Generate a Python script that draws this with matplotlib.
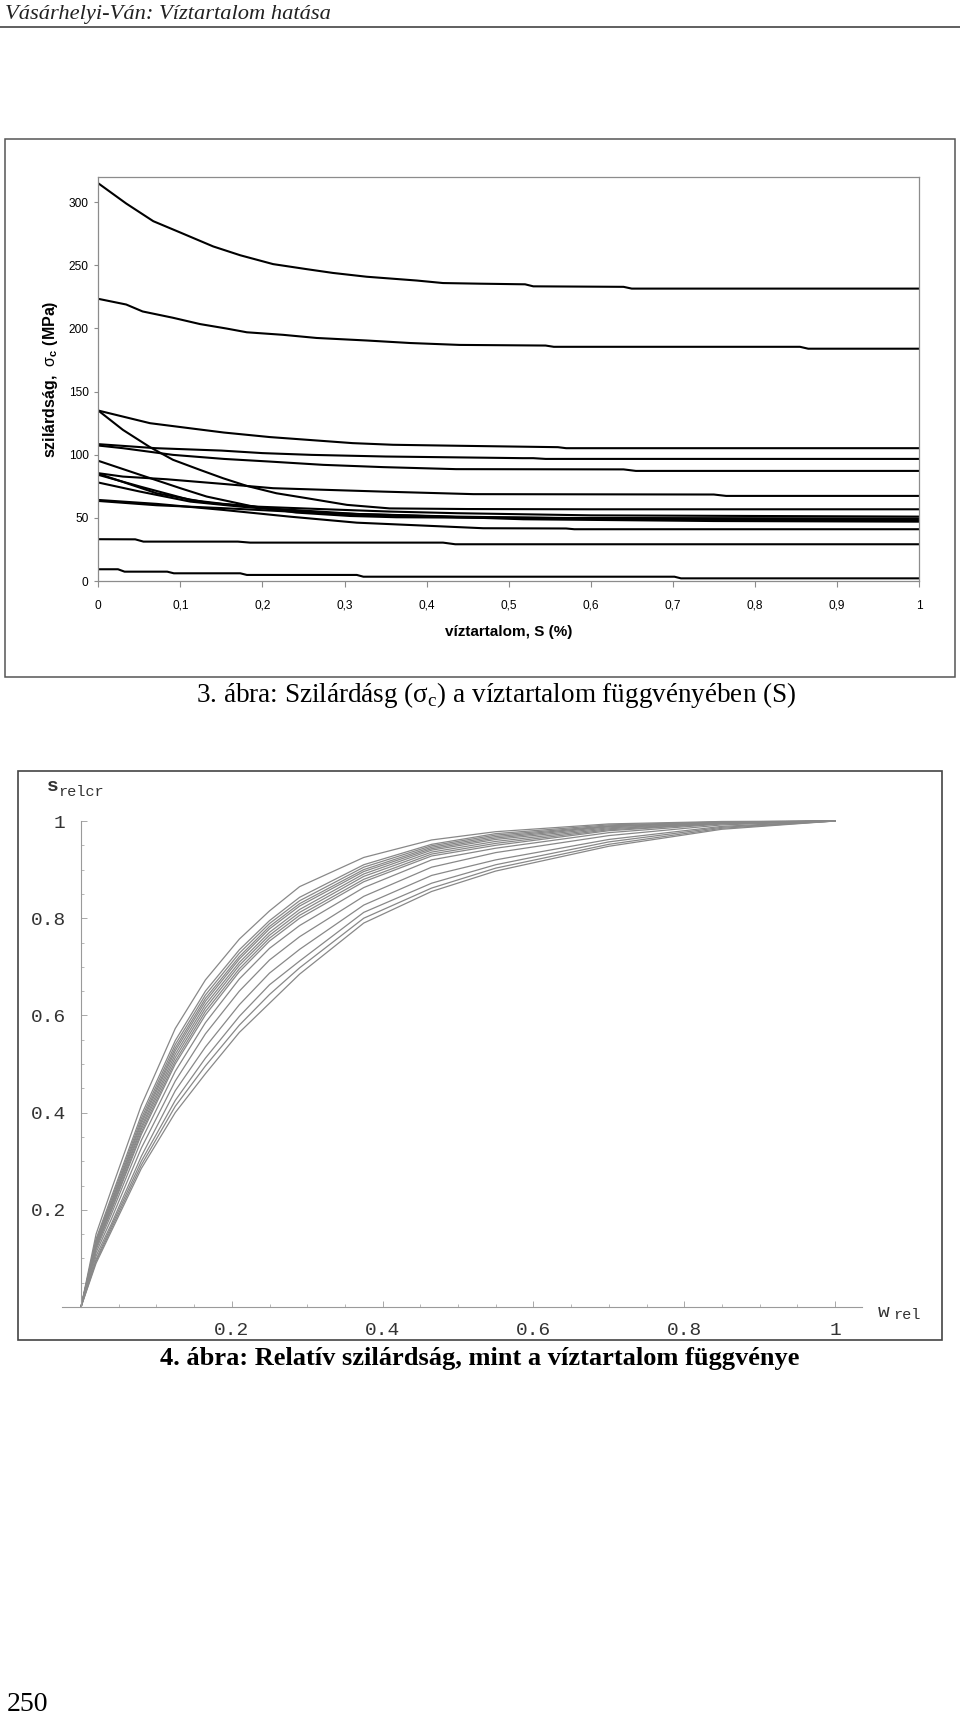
import matplotlib
matplotlib.use("Agg")
import matplotlib.pyplot as plt
from matplotlib.patches import Rectangle
from matplotlib.lines import Line2D
from matplotlib.ticker import MultipleLocator

plt.rcParams['mathtext.fontset'] = 'custom'
plt.rcParams['mathtext.rm'] = 'Liberation Serif'
plt.rcParams['mathtext.sf'] = 'Liberation Sans'
plt.rcParams['mathtext.bf'] = 'Liberation Sans:bold'

# ---- 3. ábra: szilárdság a víztartalom függvényében ----
c1_x = [0, 0.034, 0.067, 0.1, 0.14, 0.173, 0.213, 0.254, 0.286, 0.327, 0.388, 0.42, 0.465, 0.52, 0.53, 0.64, 0.65, 1.0]
c1_y = [315, 299, 285, 276, 265, 258, 251, 247, 244, 241, 238, 236, 235.5, 235, 233.4, 233, 231.6, 231.6]
c2_x = [0, 0.034, 0.054, 0.091, 0.124, 0.156, 0.181, 0.225, 0.266, 0.327, 0.38, 0.44, 0.545, 0.555, 0.855, 0.865, 1.0]
c2_y = [223.5, 219, 213.5, 208.5, 203.5, 200, 197, 195, 192.5, 190.5, 188.5, 187, 186.5, 185.5, 185.5, 184, 184]
c3_x = [0, 0.063, 0.12, 0.153, 0.209, 0.266, 0.31, 0.359, 0.44, 0.56, 0.57, 1.0]
c3_y = [135, 125, 120.3, 117.6, 114, 111.3, 109.2, 107.9, 107.1, 106, 105.2, 105.2]
c4_x = [0, 0.03, 0.063, 0.091, 0.124, 0.152, 0.181, 0.217, 0.254, 0.303, 0.355, 0.45, 0.6, 1.0]
c4_y = [135, 119.7, 106, 96, 88, 81.4, 75.3, 69.5, 65.6, 60.3, 57.5, 57, 56.8, 56.8]
c5_x = [0, 0.07, 0.15, 0.2, 0.26, 0.35, 0.517, 0.53, 0.545, 1.0]
c5_y = [108.4, 105.2, 103.3, 101.3, 99.9, 98.6, 97.3, 97.3, 96.7, 96.7]
c6_x = [0, 0.03, 0.091, 0.153, 0.209, 0.274, 0.347, 0.436, 0.64, 0.655, 1.0]
c6_y = [107.3, 105.2, 99.9, 96.7, 94.6, 92, 90.2, 88.6, 88.4, 87.2, 87.2]
c7_x = [0, 0.051, 0.1, 0.132, 0.185, 0.241, 0.307, 0.363, 0.5, 1.0]
c7_y = [95.2, 84.1, 73.5, 66.9, 59.5, 54.2, 51.5, 50.5, 50, 49.5]
c8_x = [0, 0.03, 0.083, 0.152, 0.213, 0.347, 0.457, 0.75, 0.765, 1.0]
c8_y = [85.4, 82.7, 80.6, 76.9, 73.5, 70.8, 68.8, 68.5, 67.4, 67.4]
c9_x = [0, 0.051, 0.112, 0.152, 0.193, 0.274, 0.355, 0.437, 0.6, 1.0]
c9_y = [84.1, 74.8, 64.2, 61.1, 58.9, 56.9, 55, 53.7, 52, 51]
c10_x = [0, 0.051, 0.112, 0.173, 0.233, 0.315, 0.437, 0.7, 1.0]
c10_y = [78, 70.8, 62.9, 58.9, 55.7, 52.3, 50.5, 49.3, 48.9]
c11_x = [0, 0.071, 0.132, 0.213, 0.315, 0.437, 0.7, 1.0]
c11_y = [85, 69.5, 62.1, 57.3, 53.1, 51, 48.5, 48]
c12_x = [0, 0.071, 0.152, 0.233, 0.315, 0.396, 0.469, 0.57, 0.58, 1.0]
c12_y = [64.2, 61.1, 56.3, 51, 46.2, 43.9, 41.8, 41.6, 41, 41]
c13_x = [0, 0.071, 0.152, 0.233, 0.315, 0.396, 0.518, 0.75, 1.0]
c13_y = [63.4, 60, 57.7, 55, 53.1, 51.5, 48.9, 47.5, 47]
c14_x = [0, 0.045, 0.055, 0.17, 0.185, 0.42, 0.435, 1.0]
c14_y = [33.1, 33, 31.2, 31.2, 30.4, 30.4, 29.1, 29.1]
c15_x = [0, 0.024, 0.032, 0.084, 0.092, 0.173, 0.181, 0.315, 0.323, 0.702, 0.71, 1.0]
c15_y = [9.3, 9.3, 7.4, 7.4, 6.1, 6.1, 4.8, 4.8, 3.4, 3.4, 2.1, 2.1]

gorbek = [(c1_x, c1_y), (c2_x, c2_y), (c3_x, c3_y), (c4_x, c4_y), (c5_x, c5_y),
          (c6_x, c6_y), (c7_x, c7_y), (c8_x, c8_y), (c9_x, c9_y), (c10_x, c10_y),
          (c11_x, c11_y), (c12_x, c12_y), (c13_x, c13_y), (c14_x, c14_y), (c15_x, c15_y)]

x1_ticks = [0, 0.1, 0.2, 0.3, 0.4, 0.5, 0.6, 0.7, 0.8, 0.9, 1.0]
x1_labels = ["0", "0,1", "0,2", "0,3", "0,4", "0,5", "0,6", "0,7", "0,8", "0,9", "1"]
y1_ticks = [0, 50, 100, 150, 200, 250, 300]

# ---- 4. ábra: relatív szilárdság ----
w_rel = [0, 0.02, 0.04, 0.08, 0.125, 0.165, 0.21, 0.25, 0.29, 0.375, 0.465, 0.55, 0.7, 0.85, 1.0]
rel_a = [0, .150, .240, .415, .573, .673, .757, .815, .865, .925, .961, .978, .994, .999, 1]
rel_b = [0, .140, .225, .395, .548, .650, .735, .795, .843, .910, .952, .974, .992, .998, 1]
rel_c = [0, .137, .220, .388, .540, .642, .728, .789, .836, .905, .949, .971, .990, .998, 1]
rel_d = [0, .134, .215, .382, .533, .635, .721, .783, .830, .900, .946, .968, .989, .997, 1]
rel_e = [0, .132, .212, .377, .527, .629, .716, .778, .825, .896, .943, .965, .988, .997, 1]
rel_f = [0, .129, .208, .371, .520, .622, .709, .771, .818, .891, .940, .962, .986, .996, 1]
rel_g = [0, .127, .205, .366, .513, .615, .703, .765, .812, .886, .936, .958, .984, .996, 1]
rel_h = [0, .124, .200, .360, .506, .608, .696, .759, .806, .880, .932, .954, .982, .995, 1]
rel_i = [0, .122, .197, .355, .500, .601, .690, .753, .800, .875, .928, .950, .980, .995, 1]
rel_j = [0, .118, .190, .343, .485, .585, .675, .738, .785, .863, .920, .944, .976, .994, 1]
rel_k = [0, .112, .180, .327, .465, .562, .650, .714, .762, .845, .905, .935, .970, .992, 1]
rel_l = [0, .105, .170, .310, .445, .535, .622, .687, .736, .827, .888, .920, .962, .989, 1]
rel_m = [0, .098, .165, .300, .425, .512, .598, .663, .712, .812, .872, .910, .957, .987, 1]
rel_n = [0, .094, .160, .292, .413, .496, .580, .643, .698, .800, .862, .903, .952, .985, 1]
rel_o = [0, .090, .155, .285, .400, .480, .565, .625, .685, .790, .855, .897, .948, .983, 1]
rel_gorbek = [rel_a, rel_b, rel_c, rel_d, rel_e, rel_f, rel_g, rel_h,
              rel_i, rel_j, rel_k, rel_l, rel_m, rel_n, rel_o]

rel_ticks = [0.2, 0.4, 0.6, 0.8, 1.0]
rel_labels = ["0.2", "0.4", "0.6", "0.8", "1"]

W, H = 960, 1714
fig = plt.figure(figsize=(9.6, 17.14), dpi=100)


def hely(x0, y0, x1, y1):
    # pixel doboz -> figure tört koordináták
    return [x0 / W, 1 - y1 / H, (x1 - x0) / W, (y1 - y0) / H]


def px(x, y):
    return x / W, 1 - y / H


def szoveg(x, y, s, **kw):
    fx, fy = px(x, y)
    fig.text(fx, fy, s, **kw)


# fejléc
szoveg(5, 18.5, "Vásárhelyi-Ván: Víztartalom hatása", family="Liberation Serif",
       style="italic", fontsize=16.2, color="#222222", va="baseline", ha="left")
fig.add_artist(Line2D([0, 1], [px(0, 27)[1]] * 2, transform=fig.transFigure,
                      color="#444444", lw=1.2))

# ---- felső diagram ----
x0, y0 = px(5, 139)
x1, y1 = px(955, 677)
fig.add_artist(Rectangle((x0, y1), x1 - x0, y0 - y1, transform=fig.transFigure,
                         fill=False, edgecolor="#555555", lw=1.1))

ax1 = fig.add_axes(hely(98.3, 177, 919, 581))
for gx, gy in gorbek:
    ax1.plot(gx, gy, color="black", lw=1.5, solid_joinstyle="round")
ax1.set_xlim(0, 1)
ax1.set_ylim(0, 320)
ax1.set_xticks(x1_ticks)
ax1.set_xticklabels(x1_labels)
ax1.set_yticks(y1_ticks)
for sp in ax1.spines.values():
    sp.set_color("#8c8c8c")
    sp.set_linewidth(0.9)
ax1.tick_params(axis="y", direction="out", length=3, width=0.8, color="#8c8c8c",
                labelsize=8.6, pad=4)
ax1.tick_params(axis="x", direction="out", length=4.5, width=0.8, color="#8c8c8c",
                labelsize=8.6, pad=9)
for t in ax1.get_xticklabels() + ax1.get_yticklabels():
    t.set_family("Liberation Sans")
ax1.set_ylabel(r"szilárdság,  $\mathsf{\sigma}_\mathbf{c}$ (MPa)", family="Liberation Sans",
               fontsize=11.5, fontweight="bold")
ax1.yaxis.set_label_coords(-0.047, 0.5)
ax1.set_xlabel("víztartalom, S (%)", family="Liberation Sans", fontsize=11,
               fontweight="bold")
ax1.xaxis.set_label_coords(0.5, -0.11)

szoveg(496, 695, r"3. ábra: Szilárdásg ($\mathrm{\sigma}_\mathrm{c}$) a víztartalom függvényében (S)",
       family="Liberation Serif", fontsize=19.5, ha="center", va="center", color="black")

# ---- alsó diagram ----
x0, y0 = px(17.5, 771)
x1, y1 = px(942, 1340)
fig.add_artist(Rectangle((x0, y1), x1 - x0, y0 - y1, transform=fig.transFigure,
                         fill=False, edgecolor="#444444", lw=1.2))

ax2 = fig.add_axes(hely(62, 821, 862, 1307))
for gy in rel_gorbek:
    ax2.plot(w_rel, gy, color="#888888", lw=0.9, clip_on=False)
ax2.set_xlim(-0.0252, 1.0358)
ax2.set_ylim(0, 1.0)
ax2.spines["top"].set_visible(False)
ax2.spines["right"].set_visible(False)
ax2.spines["left"].set_position(("data", 0))
for sp in ("left", "bottom"):
    ax2.spines[sp].set_color("#9a9a9a")
    ax2.spines[sp].set_linewidth(0.8)
ax2.set_xticks(rel_ticks)
ax2.set_xticklabels(rel_labels)
ax2.set_yticks(rel_ticks)
ax2.set_yticklabels(rel_labels)
ax2.xaxis.set_minor_locator(MultipleLocator(0.05))
ax2.yaxis.set_minor_locator(MultipleLocator(0.05))
ax2.tick_params(which="major", direction="in", length=4, width=0.6, color="#9a9a9a",
                labelsize=14, labelcolor="#333333")
ax2.tick_params(which="minor", direction="in", length=2.5, width=0.5, color="#9a9a9a")
ax2.tick_params(axis="y", which="major", pad=11)
ax2.tick_params(axis="x", which="major", pad=11)
for t in ax2.get_xticklabels() + ax2.get_yticklabels():
    t.set_family("Liberation Mono")

szoveg(47, 791.5, "s", family="Liberation Mono", fontweight="bold", fontsize=14,
       color="#333333", va="baseline")
szoveg(58, 796, "relcr", family="Liberation Mono", fontsize=11, color="#333333",
       va="baseline")
szoveg(878, 1317, "w", family="Liberation Mono", fontsize=14, color="#333333",
       va="baseline")
szoveg(893, 1319, "rel", family="Liberation Mono", fontsize=11, color="#333333",
       va="baseline")

szoveg(480, 1358, "4. ábra: Relatív szilárdság, mint a víztartalom függvénye",
       family="Liberation Serif", fontweight="bold", fontsize=19, ha="center",
       va="center", color="black")

# oldalszám
szoveg(7, 1711, "250", family="Liberation Serif", fontsize=20, va="baseline",
       color="black")

fig.savefig("out.png", dpi=100)
